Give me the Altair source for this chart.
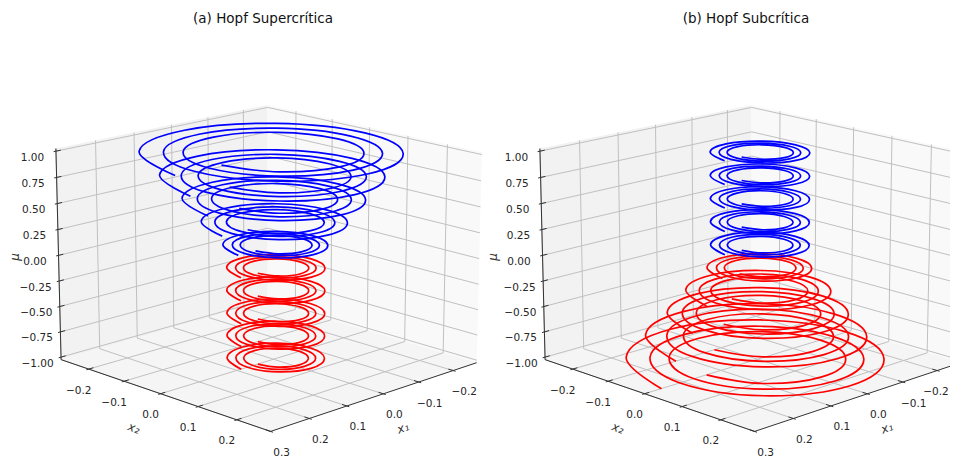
import math
import altair as alt
import pandas as pd

# ---- values ----
TITLES = ["(a) Hopf Supercrítica", "(b) Hopf Subcrítica"]
MU_LEVELS = [-1.0, -0.778, -0.556, -0.333, -0.111, 0.111, 0.333, 0.556, 0.778, 1.0]
X1_TICKS = [-0.2, -0.1, 0.0, 0.1, 0.2, 0.3]
X1_LABELS = ["−0.2", "−0.1", "0.0", "0.1", "0.2", "0.3"]
X2_TICKS = [-0.2, -0.1, 0.0, 0.1, 0.2]
X2_LABELS = ["−0.2", "−0.1", "0.0", "0.1", "0.2"]
Z_TICKS = [-1.0, -0.75, -0.5, -0.25, 0.0, 0.25, 0.5, 0.75, 1.0]
Z_LABELS = ["−1.00", "−0.75", "−0.50", "−0.25", "0.00", "0.25", "0.50", "0.75", "1.00"]

# radius of each spiral, read every 45 degrees along its three turns
R_100 = [.268, .262, .255, .249, .243, .236, .230, .225, .220, .216, .211, .206, .202,
         .197, .192, .187, .183, .179, .174, .170, .166, .162, .158, .154, .150]
R_078 = [.230, .224, .218, .213, .207, .202, .197, .192, .188, .183, .179, .175, .171,
         .167, .163, .159, .155, .151, .147, .144, .141, .138, .135, .132, .129]
R_056 = [.186, .182, .178, .174, .170, .166, .163, .160, .156, .153, .150, .146, .143,
         .139, .136, .133, .129, .126, .123, .120, .116, .113, .110, .107, .104]
R_033 = [.149, .146, .142, .139, .135, .132, .129, .126, .123, .120, .117, .114, .111,
         .108, .106, .103, .100, .098, .095, .093, .090, .088, .086, .084, .082]
R_011 = [.107, .105, .102, .100, .097, .095, .093, .091, .089, .087, .085, .083, .081,
         .079, .077, .075, .074, .072, .070, .068, .067, .065, .064, .062, .061]
R_FIXED = [.100, .098, .096, .094, .092, .090, .088, .085, .083, .081, .079, .077, .075,
           .073, .071, .070, .068, .066, .064, .063, .061, .059, .058, .056, .055]
ANGLES_DEG = list(range(0, 1081, 45))
GROWING = {1.0: R_100, 0.778: R_078, 0.556: R_056, 0.333: R_033, 0.111: R_011}

X1_LIM = (-0.27, 0.30)
X2_LIM = (-0.28, 0.285)
Z_LIM = (-1.025, 1.025)
X1_SHIFT, X2_SHIFT = -0.0004, 0.0114

# ---- matplotlib-style view of the 3D box ----
ELEV, AZIM, DIST = math.radians(16), math.radians(44.6), 10.0
BOX = (0.595, 0.595, 0.4465)
CX, CY, SX, SY, SHEAR = 269.0, 257.0, 2500.0, 2457.0, 0.0096
PANEL_DX = [0.0, 484.0]
RIGHT_EDGE = 950
U = (-math.sin(AZIM), math.cos(AZIM), 0.0)
W = (math.cos(ELEV) * math.cos(AZIM), math.cos(ELEV) * math.sin(AZIM), math.sin(ELEV))
V = (-math.sin(ELEV) * math.cos(AZIM), -math.sin(ELEV) * math.sin(AZIM), math.cos(ELEV))


def norm(val, lim, half):
    return (val - (lim[0] + lim[1]) / 2) / ((lim[1] - lim[0]) / 2) * half


def project(x1, x2, z, panel):
    d = (norm(x1, X1_LIM, BOX[0]), norm(x2, X2_LIM, BOX[1]), norm(z, Z_LIM, BOX[2]))
    dot = lambda a: sum(p * q for p, q in zip(a, d))
    den = DIST - dot(W)
    sx = SX * dot(U) / den
    return CX + PANEL_DX[panel] + sx, CY - SY * dot(V) / den + SHEAR * sx


def polyline(rows, group, pts, panel):
    for i, p in enumerate(pts):
        px, py = project(*p, panel)
        rows.append({"group": group, "i": i, "px": px, "py": py})


xa, xb = X1_LIM
ya, yb = X2_LIM
za, zb = Z_LIM

pane_left, pane_right, pane_floor, grid, axes, ticks, labels = [], [], [], [], [], [], []
spirals = []
for p in (0, 1):
    polyline(pane_left, f"{p}", [(xb, ya, za), (xa, ya, za), (xa, ya, zb), (xb, ya, zb), (xb, ya, za)], p)
    polyline(pane_right, f"{p}", [(xa, ya, za), (xa, yb, za), (xa, yb, zb), (xa, ya, zb), (xa, ya, za)], p)
    polyline(pane_floor, f"{p}", [(xb, ya, za), (xb, yb, za), (xa, yb, za), (xa, ya, za), (xb, ya, za)], p)
    for t in X1_TICKS:
        tt = min(t, xb)
        polyline(grid, f"{p}x{t}", [(tt, yb, za), (tt, ya, za), (tt, ya, zb)], p)
        polyline(ticks, f"{p}x{t}", [(tt, yb + 0.006, za), (tt, yb - 0.012, za)], p)
    for t in X2_TICKS:
        polyline(grid, f"{p}y{t}", [(xb, t, za), (xa, t, za), (xa, t, zb)], p)
        polyline(ticks, f"{p}y{t}", [(xb + 0.006, t, za), (xb - 0.012, t, za)], p)
    for t in Z_TICKS:
        polyline(grid, f"{p}z{t}", [(xb, ya, t), (xa, ya, t), (xa, yb, t)], p)
        polyline(ticks, f"{p}z{t}", [(xb + 0.006, ya, t), (xb - 0.012, ya, t)], p)
    polyline(axes, f"{p}z", [(xb, ya, za), (xb, ya, zb)], p)
    polyline(axes, f"{p}x", [(xb, yb, za), (xa, yb, za)], p)
    polyline(axes, f"{p}y", [(xb, ya, za), (xb, yb, za)], p)

    for t, s in zip(X1_TICKS, X1_LABELS):
        px, py = project(min(t, xb), yb, za, p)
        labels.append({"px": min(px + 11, RIGHT_EDGE - 14), "py": py + 21.5, "text": s})
    for t, s in zip(X2_TICKS, X2_LABELS):
        px, py = project(xb, t, za, p)
        labels.append({"px": px - 10, "py": py + 21.5, "text": s})
    for t, s in zip(Z_TICKS, Z_LABELS):
        px, py = project(xb, ya, t, p)
        labels.append({"px": px - 23.5, "py": py + 6.5, "text": s})

    for mu in MU_LEVELS:
        grows = (mu > 0) if p == 0 else (mu < 0)
        radii = GROWING[abs(mu)] if grows else R_FIXED
        colour = "blue" if mu > 0 else "red"
        for i, (deg, r) in enumerate(zip(ANGLES_DEG, radii)):
            t = math.radians(deg)
            px, py = project(X1_SHIFT + r * math.cos(t), X2_SHIFT - r * math.sin(t), mu, p)
            spirals.append({"group": f"{p}_{mu:+.3f}", "i": i, "px": px, "py": py, "colour": colour})

X = alt.X("px:Q", scale=alt.Scale(domain=[8, RIGHT_EDGE], nice=False, zero=False), axis=None)
Y = alt.Y("py:Q", scale=alt.Scale(domain=[457, 8], nice=False, zero=False), axis=None)


def lines(rows, **mark):
    return alt.Chart(pd.DataFrame(rows)).mark_line(**mark).encode(
        x=X, y=Y, detail="group:N", order="i:Q")


def pane(rows, fill):
    return lines(rows, fill=fill, strokeWidth=0)


spiral_layer = alt.Chart(pd.DataFrame(spirals)).mark_line(
    interpolate="cardinal", tension=-0.125, strokeWidth=1.7).encode(
    x=X, y=Y, detail="group:N", order="i:Q",
    color=alt.Color("colour:N", scale=alt.Scale(domain=["blue", "red"], range=["#0000ff", "#ff0000"]), legend=None))

tick_text = alt.Chart(pd.DataFrame(labels)).mark_text(
    font="DejaVu Sans", fontSize=10.5, color="#262626", align="center", baseline="middle").encode(
    x=X, y=Y, text="text:N")

titles = alt.Chart(pd.DataFrame({"px": [263, 746], "py": [19, 19], "text": TITLES})).mark_text(
    font="DejaVu Sans", fontSize=13.5, color="#111111", align="center", baseline="middle").encode(
    x=X, y=Y, text="text:N")


def axis_label(xs, ys, text, angle):
    return alt.Chart(pd.DataFrame({"px": xs, "py": ys, "text": [text] * len(xs)})).mark_text(
        font="DejaVu Sans", fontSize=12, fontStyle="italic", color="#333333",
        align="center", baseline="middle", angle=angle).encode(
        x=X, y=Y, text="text:N")


chart = alt.layer(
    pane(pane_left, "#f2f2f2"), pane(pane_right, "#f9f9f9"), pane(pane_floor, "#f5f5f5"),
    lines(grid, color="#c0c0c0", strokeWidth=1),
    lines(axes, color="#333333", strokeWidth=1),
    lines(ticks, color="#333333", strokeWidth=1),
    spiral_layer, tick_text, titles,
    axis_label([134, 618], [428, 428], "x₂", 20),
    axis_label([403, 887], [428, 428], "x₁", 340),
    axis_label([15, 493], [257, 257], "μ", 270),
).properties(
    width=942, height=449, padding=0,
    autosize=alt.AutoSizeParams(type="none"),
).configure_view(stroke=None)

chart.save("out.html", embed_options={"renderer": "svg", "actions": False})
